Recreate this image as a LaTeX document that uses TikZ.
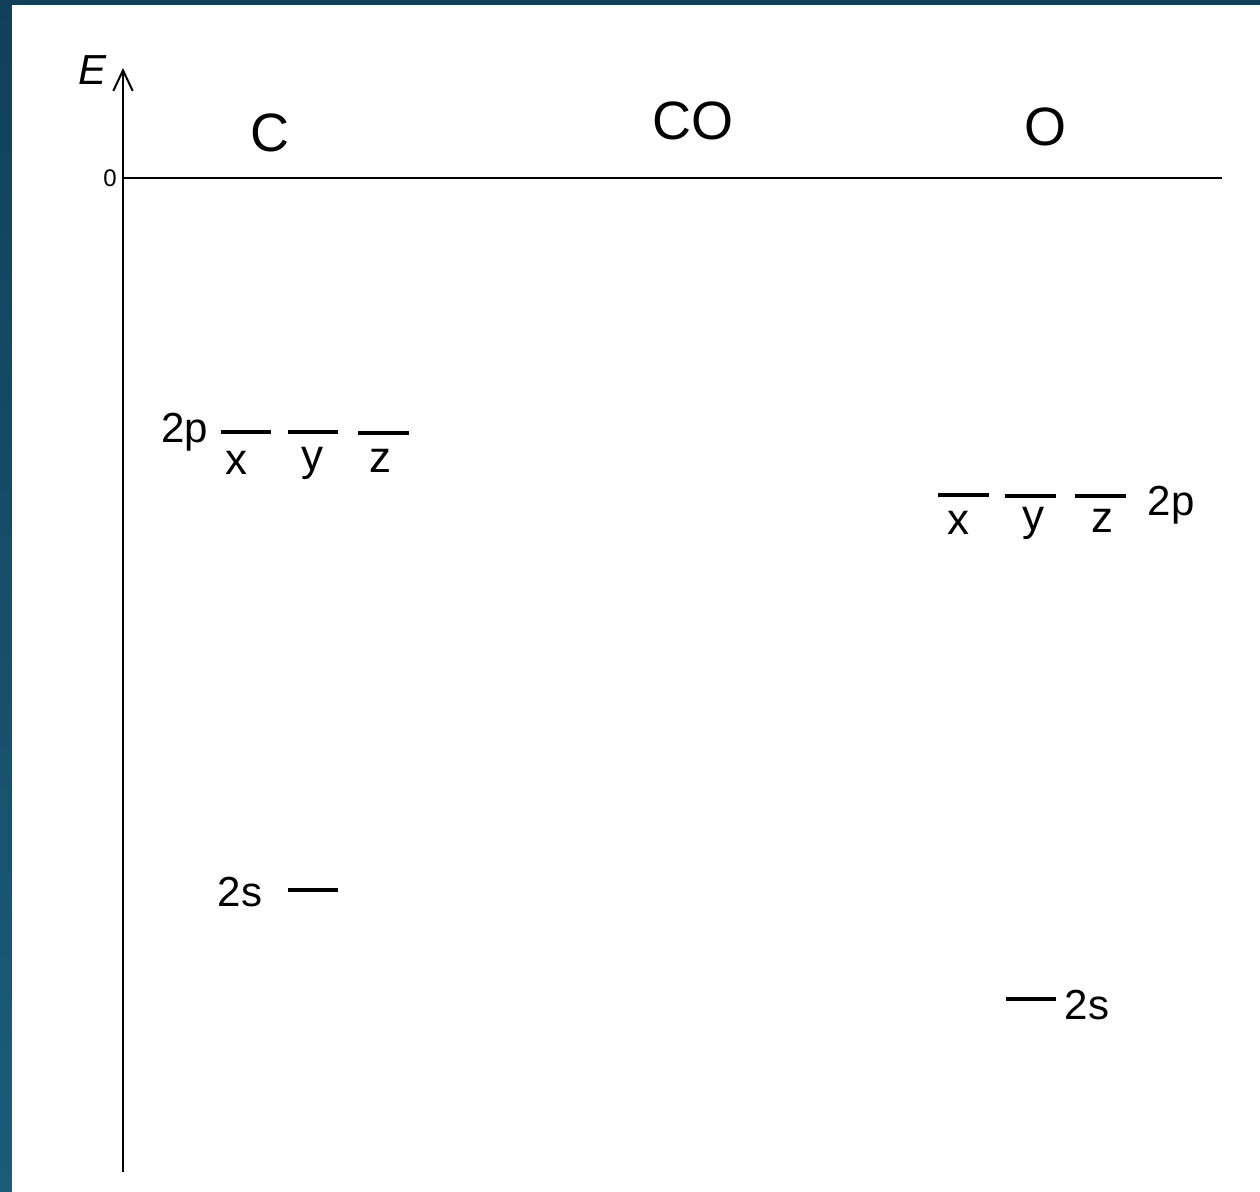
\documentclass[tikz,border=0pt]{standalone}
\usepackage{fontspec}
\setmainfont{Liberation Sans}
\usepackage{tikz}
\usetikzlibrary{arrows.meta,positioning}
\definecolor{frameTop}{HTML}{11405A}
\definecolor{frameBot}{HTML}{1B5C7B}
\tikzset{
  px/.style={x=0.5pt, y=-0.5pt},
  e axis/.style={line width=1.2pt, black},
  e lvl/.style={line width=2pt, black},
  e big/.style={font=\fontsize{27}{30}\selectfont},
  e lab/.style={font=\fontsize{21}{24}\selectfont, inner sep=0pt},
  e orb/.style={font=\fontsize{22}{24}\selectfont, inner sep=0pt},
  e tip/.style={-{Straight Barb[length=3.6mm, width=3.4mm, line width=1pt]}},
}

\begin{document}
\begin{tikzpicture}[px]
% frame
\fill[top color=frameTop, bottom color=frameBot] (0,0) rectangle (1260,1192);
\fill[white] (12,5) rectangle (1260,1192);
\useasboundingbox (0,0) rectangle (1260,1192);
% axes
\coordinate (orig) at (123,178);
\coordinate (ybot) at (123,1172);
\coordinate (ytop) at (123,68);
\coordinate (xend) at (1222,178);
\draw[e axis, e tip] (ybot) -- (ytop);
\draw[e axis] (orig) -- (xend);
\node[font=\fontsize{12}{14}\selectfont, inner sep=0pt] (zero) at (110,178) {0};
\node[e lab, font=\fontsize{21}{24}\selectfont\itshape] (en) at (93,70) {E};
% headings
\node[e big] (hC) at (270,133) {C};
\node[e big] (hCO) at (693,121) {CO};
\node[e big] (hO) at (1045,127) {O};
% carbon 2p
\draw[e lvl] (221,432) -- (271,432);
\draw[e lvl] (288,432) -- (338,432);
\draw[e lvl] (358,433) -- (409,433);
\node[e lab] (c2p) at (185,432) {2p};
\node[e orb] (cx) at (236,463) {x};
\node[e orb] (cy) at (312,463) {y};
\node[e orb] (cz) at (380,461) {z};
% oxygen 2p
\draw[e lvl] (938,495) -- (989,495);
\draw[e lvl] (1005,496) -- (1056,496);
\draw[e lvl] (1075,496) -- (1126,496);
\node[e lab] (o2p) at (1171,505) {2p};
\node[e orb] (ox) at (958,523) {x};
\node[e orb] (oy) at (1033,523) {y};
\node[e orb] (oz) at (1102,521) {z};
% 2s levels
\draw[e lvl] (288,890) -- (338,890);
\node[e lab] (c2s) at (240,892) {2s};
\draw[e lvl] (1006,999) -- (1056,999);
\node[e lab] (o2s) at (1087,1005) {2s};
\end{tikzpicture}
\end{document}
